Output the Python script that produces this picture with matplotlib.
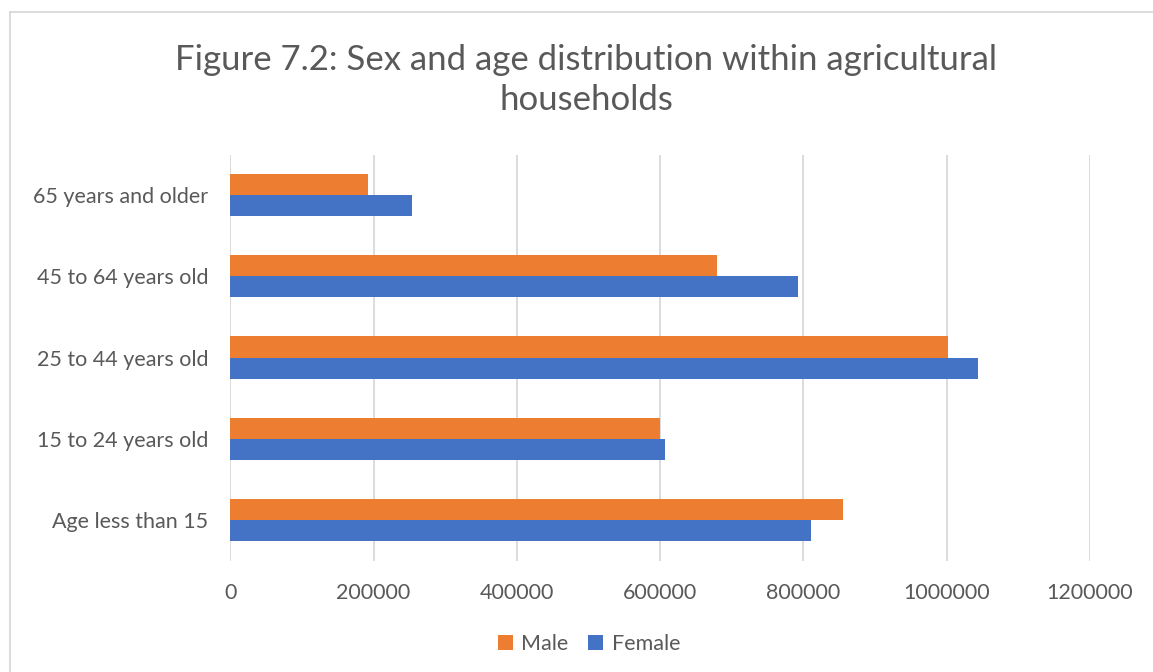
import numpy as np
import matplotlib.pyplot as plt
from matplotlib.lines import Line2D

plt.rcParams['font.family'] = ['Lato', 'DejaVu Sans']

categories = ["Age less than 15", "15 to 24 years old", "25 to 44 years old",
              "45 to 64 years old", "65 years and older"]
male = [855500, 599300, 1002100, 678800, 192600]
female = [810000, 607100, 1043100, 792700, 253600]
xticks = [0, 200000, 400000, 600000, 800000, 1000000, 1200000]

W, H = 1153, 672
fig = plt.figure(figsize=(W / 100, H / 100), dpi=100)
ax = fig.add_axes([230.3 / W, (H - 560.5) / H, (1090 - 230.3) / W, (560.5 - 154.5) / H])

y = np.arange(len(categories))
h = 0.26
text_col = '#595959'
ax.barh(y + h / 2, male, height=h, color='#ED7D31', label='Male', zorder=3)
ax.barh(y - h / 2, female, height=h, color='#4472C4', label='Female', zorder=3)

ax.set_xlim(0, 1200000)
ax.set_ylim(-0.5, len(categories) - 0.5)
ax.set_xticks(xticks)
ax.set_xticklabels([str(v) for v in xticks])
ax.set_yticks(y)
ax.set_yticklabels(categories)
ax.tick_params(axis='both', length=0, labelsize=15.5, colors=text_col)
ax.tick_params(axis='x', pad=16)
ax.tick_params(axis='y', pad=16)
ax.grid(axis='x', color='#D9D9D9', linewidth=1.3, zorder=0)
for s in ax.spines.values():
    s.set_visible(False)

fig.text(586 / W, (H - 80) / H, "Figure 7.2: Sex and age distribution within agricultural\nhouseholds",
         ha='center', va='center', fontsize=25, color=text_col, linespacing=1.33)

fig.legend(loc='center', bbox_to_anchor=(589 / W, (H - 644) / H), ncol=2, frameon=False,
           fontsize=15.5, handlelength=0.7, handleheight=0.7, handletextpad=0.4,
           columnspacing=0.9, labelcolor=text_col)

# chart border (only left and top visible)
fig.add_artist(Line2D([9.5 / W, 9.5 / W], [0, (H - 11.5) / H], color='#D9D9D9', lw=1.3))
fig.add_artist(Line2D([9.5 / W, 1], [(H - 11.5) / H, (H - 11.5) / H], color='#D9D9D9', lw=1.3))

fig.savefig('out.png', dpi=100)
